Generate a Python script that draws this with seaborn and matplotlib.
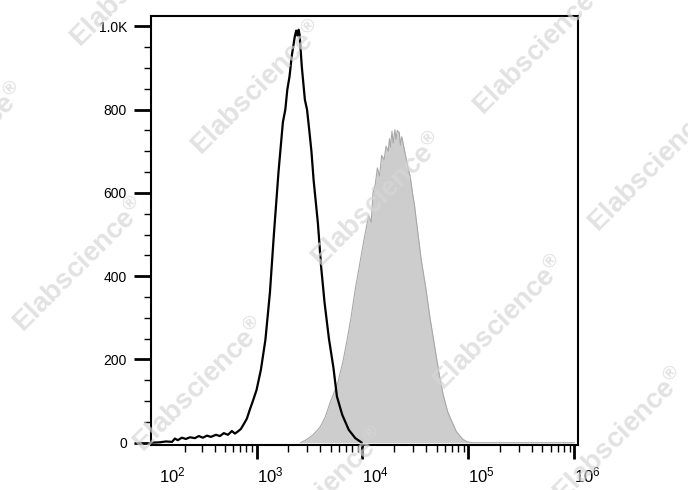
"""
Histogramme de cytométrie en flux (isotype vs marqué), style FlowJo.
"""

import numpy as np
import matplotlib
matplotlib.use("Agg")
import matplotlib.pyplot as plt
from matplotlib.ticker import FixedLocator, MultipleLocator, NullFormatter
import seaborn as sns

# contrôle (ligne noire)
black_x = [76, 102, 122, 144, 155, 167, 185, 204, 225, 253, 277, 304, 333, 365,
           408, 446, 487, 533, 582, 622, 664, 709, 757, 809, 864, 922, 1000,
           1098, 1212, 1337, 1458, 1612, 1774, 1870, 1953, 2050, 2149, 2299,
           2370, 2433, 2500, 2553, 2675, 2862, 3000, 3144, 3300, 3460, 3799,
           4073, 4396, 4827, 5324, 5744, 6447, 7426, 8553, 9877]
black_counts = [0, 1, 3, 2, 10, 6, 12, 9, 13, 11, 16, 12, 17, 14,
                19, 16, 23, 19, 28, 22, 27, 33, 45, 58, 80, 100, 127,
                175, 247, 360, 500, 650, 770, 800, 848, 880, 928, 976,
                990, 978, 992, 980, 904, 824, 800, 752, 700, 631, 527,
                423, 335, 250, 180, 111, 67, 31, 11, 0]

# échantillon marqué (aire grise)
grey_x = [2602, 2989, 3460, 3994, 4425, 4935, 5382, 5871, 6546, 7140, 7790,
          8573, 9432, 10379, 11420, 12100, 12567, 13200, 13829, 14500, 15183,
          16000, 16707, 17500, 18000, 18383, 19000, 19500, 20227, 20700, 21300,
          22260, 22800, 23500, 24495, 25500, 26950, 28200, 29657, 31000, 32570,
          35840, 39438, 43397, 47755, 52550, 57830, 63633, 70026, 76888, 88754,
          97650, 108137, 300000, 1000000]
grey_counts = [0, 8, 20, 38, 60, 95, 120, 145, 195, 245, 300,
               370, 430, 490, 545, 530, 600, 620, 660, 640, 690,
               680, 712, 700, 730, 710, 748, 720, 752, 728, 750,
               745, 715, 735, 712, 690, 660, 640, 600, 570, 525,
               440, 375, 300, 235, 170, 115, 75, 50, 27, 8,
               2, 0, 0, 0]

x_major = [1e2, 1e3, 1e4, 1e5, 1e6]
x_labels = ["$10^{2}$", "$10^{3}$", "$10^{4}$", "$10^{5}$", "$10^{6}$"]
y_major = [0, 200, 400, 600, 800, 1000]
y_labels = ["0", "200", "400", "600", "800", "1.0K"]

watermarks = [(137, -20), (-40, 150), (258, 88), (540, 48), (378, 200),
              (655, 165), (80, 265), (500, 323), (200, 385), (620, 435),
              (320, 495)]

sns.set_style("ticks")
plt.rcParams["font.family"] = ["Liberation Sans", "DejaVu Sans"]
plt.rcParams["mathtext.default"] = "regular"

W, H = 688, 490
fig = plt.figure(figsize=(W / 100, H / 100), dpi=100)
ax = fig.add_axes([150.5 / W, 1 - 445 / H, 427 / W, 429 / H])

# échelle type biexponentielle (asinh)
ax.set_xscale("function", functions=(lambda v: np.arcsinh(np.asarray(v) / 100.0),
                                     lambda v: 100.0 * np.sinh(np.asarray(v))))

ax.fill_between(grey_x, grey_counts, color="#cdcdcd", lw=0, zorder=1)
sns.lineplot(x=grey_x, y=grey_counts, ax=ax, color="#a8a8a8", lw=0.8,
             estimator=None, sort=False, zorder=2)
sns.lineplot(x=black_x, y=black_counts, ax=ax, color="black", lw=1.6,
             estimator=None, sort=False, zorder=3)

ax.set_xlim(75, 1.07e6)
ax.set_ylim(-5.5, 1025)

ax.xaxis.set_major_locator(FixedLocator(x_major))
ax.set_xticklabels(x_labels)
minors = [k * 10 ** d for d in range(2, 6) for k in range(2, 10)]
ax.xaxis.set_minor_locator(FixedLocator(minors))
ax.xaxis.set_minor_formatter(NullFormatter())
for lbl in ax.get_xticklabels():
    lbl.set_horizontalalignment("left")
ax.xaxis.get_major_ticks()[0].tick1line.set_visible(False)

ax.set_yticks(y_major)
ax.set_yticklabels(y_labels)
ax.yaxis.set_minor_locator(MultipleLocator(50))

ax.tick_params(axis="x", which="major", length=10, width=2, pad=5,
               labelsize=12, colors="black")
ax.tick_params(axis="x", which="minor", length=5, width=1, colors="black")
ax.tick_params(axis="y", which="major", length=12, width=2, pad=5,
               labelsize=10, colors="black")
ax.tick_params(axis="y", which="minor", length=5, width=1, colors="black")
for s in ax.spines.values():
    s.set_visible(True)
    s.set_linewidth(1.5)
    s.set_color("black")
ax.set_xlabel("")
ax.set_ylabel("")

for (px, py) in watermarks:
    fig.text(px / W, 1 - py / H, "Elabscience$^{\u00ae}$", rotation=45,
             ha="center", va="center", fontsize=20, fontweight="bold",
             color="#d6d6d6", alpha=0.7, zorder=10)

plt.savefig("out.png", dpi=100)
